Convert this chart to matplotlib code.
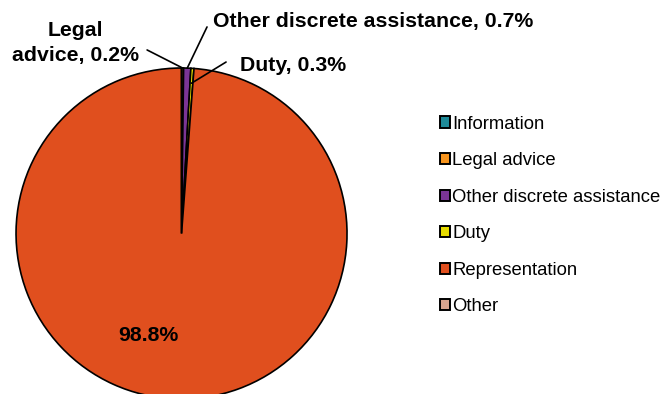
import numpy as np
import matplotlib
matplotlib.use("Agg")
import matplotlib.pyplot as plt
from matplotlib.patches import Patch

plt.rcParams["font.family"] = ["Liberation Sans", "DejaVu Sans"]

# share of services by type (%)
categories = ["Information", "Legal advice", "Other discrete assistance",
              "Duty", "Representation", "Other"]
shares = [0.0, 0.2, 0.7, 0.3, 98.8, 0.0]
colors = ["#1E8A98", "#F7941D", "#7B3595", "#E6DB00", "#E04F1E", "#D9A58F"]

fig = plt.figure(figsize=(6.63, 3.94), dpi=100)
ax = fig.add_axes([0, 0, 1, 1])

wedges, _ = ax.pie(shares, colors=colors, startangle=90, counterclock=False,
                   radius=1, wedgeprops=dict(edgecolor="black", linewidth=1.2))
ax.set_xlim(-1.0967, 2.909)
ax.set_ylim(-0.9698, 1.4109)
ax.set_aspect("equal")
ax.axis("off")


def wedge_point(i, r):
    w = wedges[i]
    ang = np.deg2rad((w.theta1 + w.theta2) / 2)
    return r * np.cos(ang), r * np.sin(ang)


lab = dict(fontsize=15.3, fontweight="bold", color="black")
line = dict(arrowstyle="-", lw=1.2, color="black", shrinkA=0, shrinkB=0)

# Legal advice
ax.text(-0.643, 1.15, f"Legal\nadvice, {shares[1]}%", ha="center", va="center",
        linespacing=1.42, **lab)
ax.annotate("", xy=wedge_point(1, 1.0), xytext=(-0.208, 1.109), arrowprops=line)

# Other discrete assistance
ax.text(0.19, 1.278, f"Other discrete assistance, {shares[2]}%", ha="left",
        va="center", **lab)
ax.annotate("", xy=wedge_point(2, 1.0), xytext=(0.154, 1.248), arrowprops=line)

# Duty
ax.text(0.353, 1.018, f"Duty, {shares[3]}%", ha="left", va="center", **lab)
ax.annotate("", xy=wedge_point(3, 0.91), xytext=(0.269, 1.036), arrowprops=line)

# Representation
ax.text(-0.202, -0.619, f"{shares[4]}%", ha="center", va="center", **lab)

handles = [Patch(facecolor=c, edgecolor="black", linewidth=1.4) for c in colors]
fig.legend(handles, categories, loc="center left",
           bbox_to_anchor=(440 / 663, 0.453), frameon=False, fontsize=13.3,
           handlelength=0.55, handleheight=0.55, handletextpad=0.12,
           labelspacing=1.06, borderpad=0, borderaxespad=0)

fig.savefig("out.png", dpi=100)
